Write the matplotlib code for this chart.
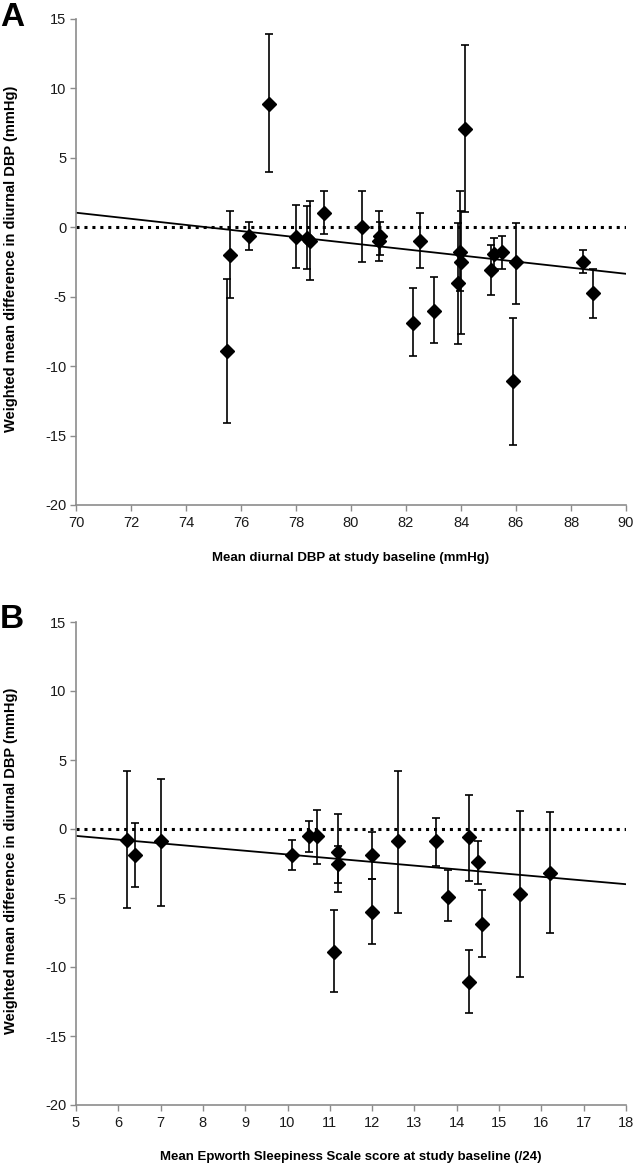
import matplotlib
matplotlib.use("Agg")
import matplotlib.pyplot as plt
import numpy as np

plt.rcParams['font.family'] = ['Liberation Sans', 'DejaVu Sans']
plt.rcParams['axes.unicode_minus'] = False

# Panel A: baseline diurnal DBP vs weighted mean difference
a_x = [75.6, 75.5, 76.3, 77.0, 78.0, 78.4, 78.5, 79.0, 80.4, 81.0, 81.05,
       82.5, 82.25, 83.0, 83.95, 84.0, 83.9, 84.15, 85.1, 85.2, 85.5, 86.0,
       85.9, 88.45, 88.8]
a_y = [-2.0, -8.9, -0.6, 8.9, -0.7, -0.8, -1.0, 1.0, 0.0, -1.0, -0.6,
       -1.0, -6.9, -6.0, -1.8, -2.5, -4.0, 7.1, -3.1, -1.9, -1.8, -2.5,
       -11.1, -2.5, -4.7]
a_lo = [-5.1, -14.1, -1.6, 4.0, -2.9, -3.0, -3.8, -0.5, -2.5, -2.4, -2.0,
        -2.9, -9.3, -8.3, -4.6, -7.7, -8.4, 1.1, -4.9, -3.0, -3.0, -5.5,
        -15.7, -3.3, -6.5]
a_hi = [1.2, -3.7, 0.4, 13.9, 1.6, 1.5, 1.9, 2.6, 2.6, 1.2, 0.4,
        1.0, -4.4, -3.6, 2.6, 1.2, 0.3, 13.1, -1.3, -0.8, -0.6, 0.3,
        -6.5, -1.6, -3.0]
a_fit_x = [70, 90]
a_fit_y = [1.05, -3.35]

# Panel B: baseline Epworth score vs weighted mean difference
b_x = [6.2, 6.4, 7.0, 10.1, 10.5, 10.7, 11.2, 11.2, 11.1, 12.0, 12.0,
       12.6, 13.5, 13.8, 14.3, 14.5, 14.6, 14.3, 15.5, 16.2]
b_y = [-0.8, -1.9, -0.9, -1.9, -0.5, -0.5, -1.7, -2.5, -8.9, -1.9, -6.0,
       -0.9, -0.9, -4.9, -0.6, -2.4, -6.9, -11.1, -4.7, -3.2]
b_lo = [-5.7, -4.2, -5.6, -3.0, -1.7, -2.5, -3.9, -4.6, -11.8, -3.6, -8.3,
        -6.1, -2.7, -6.7, -3.8, -4.0, -9.3, -13.3, -10.7, -7.5]
b_hi = [4.2, 0.4, 3.6, -0.8, 0.6, 1.4, 1.1, -1.2, -5.9, -0.2, -3.6,
        4.2, 0.8, -3.0, 2.5, -0.9, -4.4, -8.8, 1.3, 1.2]
b_fit_x = [5, 18]
b_fit_y = [-0.5, -4.0]

y_ticks = [15, 10, 5, 0, -5, -10, -15, -20]
a_xticks = [70, 72, 74, 76, 78, 80, 82, 84, 86, 88, 90]
b_xticks = [5, 6, 7, 8, 9, 10, 11, 12, 13, 14, 15, 16, 17, 18]

W, H = 634, 1165
fig = plt.figure(figsize=(W / 100, H / 100), dpi=100)


def make_ax(top, bottom):
    return fig.add_axes([76 / W, 1 - bottom / H, (626 - 76) / W, (bottom - top) / H])


def style(ax, xlim, xticks, xlabel, xlabel_y, top, bottom):
    ax.set_xlim(*xlim)
    ax.set_ylim(-20, 15)
    ax.set_xticks(xticks)
    ax.set_yticks(y_ticks)
    for s in ['top', 'right']:
        ax.spines[s].set_visible(False)
    for s in ['left', 'bottom']:
        ax.spines[s].set_color('#8c8c8c')
        ax.spines[s].set_linewidth(1.2)
    ax.tick_params(axis='both', direction='out', length=4, width=1,
                   color='#8c8c8c', labelsize=10.5, labelcolor='#1a1a1a')
    ax.tick_params(axis='x', pad=4)
    ax.tick_params(axis='y', pad=3)
    fig.text(351 / W, 1 - xlabel_y / H, xlabel, fontsize=9.5, fontweight='bold',
             ha='center', va='center')
    fig.text(11 / W, 1 - ((top + bottom) / 2 - 3) / H,
             'Weighted mean difference in diurnal DBP (mmHg)',
             fontsize=10.5, fontweight='bold', rotation=90,
             ha='center', va='center')


def draw(ax, x, y, lo, hi, fx, fy, xlim):
    ax.plot(xlim, [0, 0], color='black', linestyle=(0, (1, 1.6)), lw=2.2, zorder=1)
    ax.plot(fx, fy, color='black', lw=1.3, zorder=2)
    x = np.array(x); y = np.array(y)
    yerr = np.vstack([y - np.array(lo), np.array(hi) - y])
    ax.errorbar(x, y, yerr=yerr, fmt='D', color='black', ms=7, ecolor='black',
                elinewidth=1.2, capsize=3, capthick=1.2, zorder=3)


axA = make_ax(19, 505)
draw(axA, a_x, a_y, a_lo, a_hi, a_fit_x, a_fit_y, (70, 90))
style(axA, (70, 90), a_xticks, 'Mean diurnal DBP at study baseline (mmHg)', 558, 19, 505)

axB = make_ax(622, 1105)
draw(axB, b_x, b_y, b_lo, b_hi, b_fit_x, b_fit_y, (5, 18))
style(axB, (5, 18), b_xticks, 'Mean Epworth Sleepiness Scale score at study baseline (/24)', 1157, 622, 1105)

fig.text(0 / W, 1 - 2 / H, 'A', fontsize=24, fontweight='bold', va='top', ha='left')
fig.text(0 / W, 1 - 604 / H, 'B', fontsize=24, fontweight='bold', va='top', ha='left')

fig.savefig('out.png', dpi=100)
